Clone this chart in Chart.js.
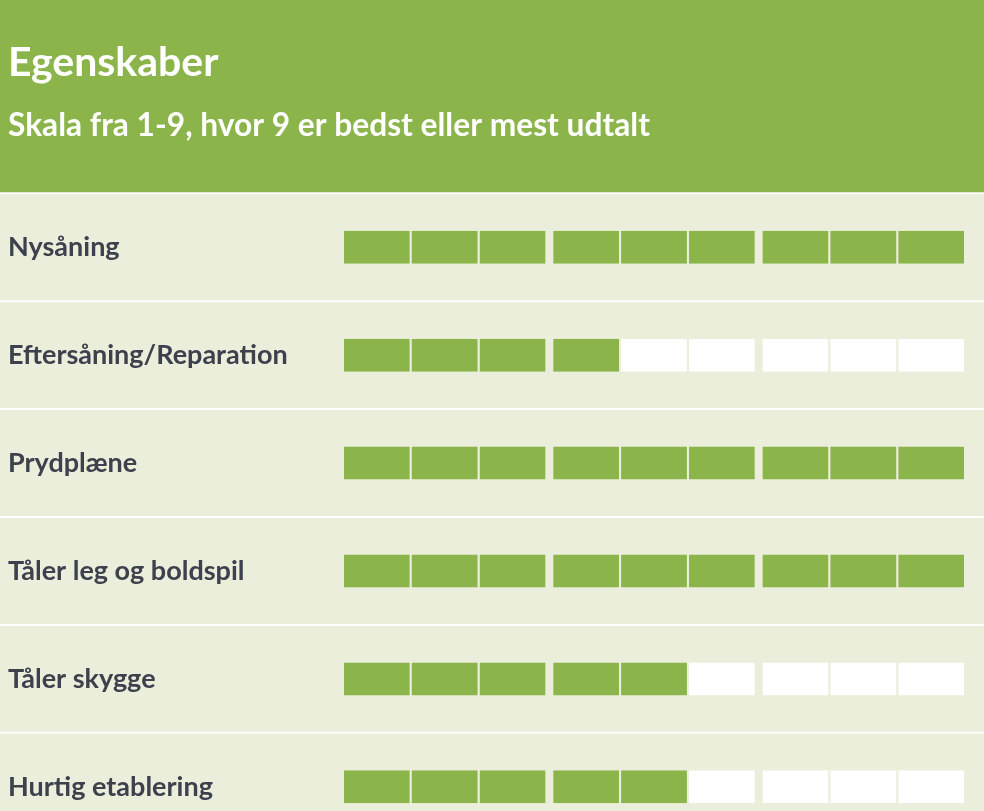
<!DOCTYPE html>
<html>
<head>
<meta charset="utf-8">
<title>Egenskaber</title>
<script src="https://cdn.jsdelivr.net/npm/chart.js@4"></script>
<style>
  html, body { margin: 0; padding: 0; overflow: hidden; background: #ebeeda; }
  .chart-box { position: relative; width: 984px; height: 860px; }
</style>
</head>
<body>
<div class="chart-box"><canvas id="scoreChart"></canvas></div>
<script>
// Egenskaber - score per property on a 1-9 scale

const categories = ["Nysåning", "Eftersåning/Reparation", "Prydplæne", "Tåler leg og boldspil", "Tåler skygge", "Hurtig etablering"];
const scores = [9, 4, 9, 9, 5, 5];
const scaleSteps = [1, 2, 3, 4, 5, 6, 7, 8, 9];

const greenColor = "#8bb54b";
const emptyColor = "#ffffff";
const rowColor = "#ebeeda";

// gaps inside a group of three are small, between groups larger
const cellBorders = [
    { top: 0, bottom: 0, left: 4, right: 0 },
    { top: 0, bottom: 0, left: 2, right: 2 },
    { top: 0, bottom: 0, left: 0, right: 4 }
];

var datasets = scaleSteps.map(function(step, i) {
    return {
        label: "Trin " + step,
        data: categories.map(function() { return 1; }),
        backgroundColor: scores.map(function(s) { return step <= s ? greenColor : emptyColor; }),
        borderColor: "rgba(0,0,0,0)",
        borderWidth: cellBorders[i % 3],
        borderSkipped: false,
        inflateAmount: 0,
        barThickness: 33
    };
});

// header band + white lines between the rows
const rowBackground = {
    id: "rowBackground",
    beforeDraw: function(chart) {
        const ctx = chart.ctx;
        const top = chart.chartArea.top;
        ctx.save();
        ctx.fillStyle = greenColor;
        ctx.fillRect(0, 0, chart.width, top);
        ctx.fillStyle = rowColor;
        ctx.fillRect(0, top, chart.width, chart.height - top);
        ctx.restore();
    },
    beforeDatasetsDraw: function(chart) {
        const ctx = chart.ctx;
        const yScale = chart.scales.y;
        const half = (yScale.getPixelForTick(1) - yScale.getPixelForTick(0)) / 2;
        ctx.save();
        ctx.strokeStyle = "#ffffff";
        ctx.lineWidth = 2;
        for (let i = 0; i < categories.length; i++) {
            const y = yScale.getPixelForTick(i) - half;
            ctx.beginPath();
            ctx.moveTo(0, y);
            ctx.lineTo(chart.width, y);
            ctx.stroke();
        }
        ctx.restore();
    }
};

function drawChart() {
    var ctx = document.getElementById("scoreChart").getContext("2d");
    var scoreChart = new Chart(ctx, {
        type: "bar",
        data: { labels: categories, datasets: datasets },
        plugins: [rowBackground],
        options: {
            indexAxis: "y",
            responsive: true,
            maintainAspectRatio: false,
            animation: false,
            layout: { padding: { left: 8, right: 16, top: 0, bottom: 0 } },
            plugins: {
                legend: { display: false },
                tooltip: { enabled: false },
                title: {
                    display: true,
                    text: "Egenskaber",
                    align: "start",
                    color: "#ffffff",
                    font: { family: "Lato", size: 41, weight: "bold" },
                    padding: { top: 38, bottom: 0 }
                },
                subtitle: {
                    display: true,
                    text: "Skala fra 1-9, hvor 9 er bedst eller mest udtalt",
                    align: "start",
                    color: "#ffffff",
                    font: { family: "Lato", size: 31.7, weight: "bold" },
                    padding: { top: 20, bottom: 48 }
                }
            },
            scales: {
                x: {
                    stacked: true,
                    min: 0,
                    max: scaleSteps.length,
                    display: false
                },
                y: {
                    stacked: true,
                    grid: { display: false },
                    border: { display: false },
                    ticks: {
                        crossAlign: "far",
                        color: "#3c414d",
                        font: { family: "Lato", size: 27, weight: "bold" }
                    },
                    afterFit: function(scale) { scale.width = 332; }
                }
            }
        }
    });
}

document.fonts.load("bold 24px Lato").then(drawChart, drawChart);
</script>
</body>
</html>
